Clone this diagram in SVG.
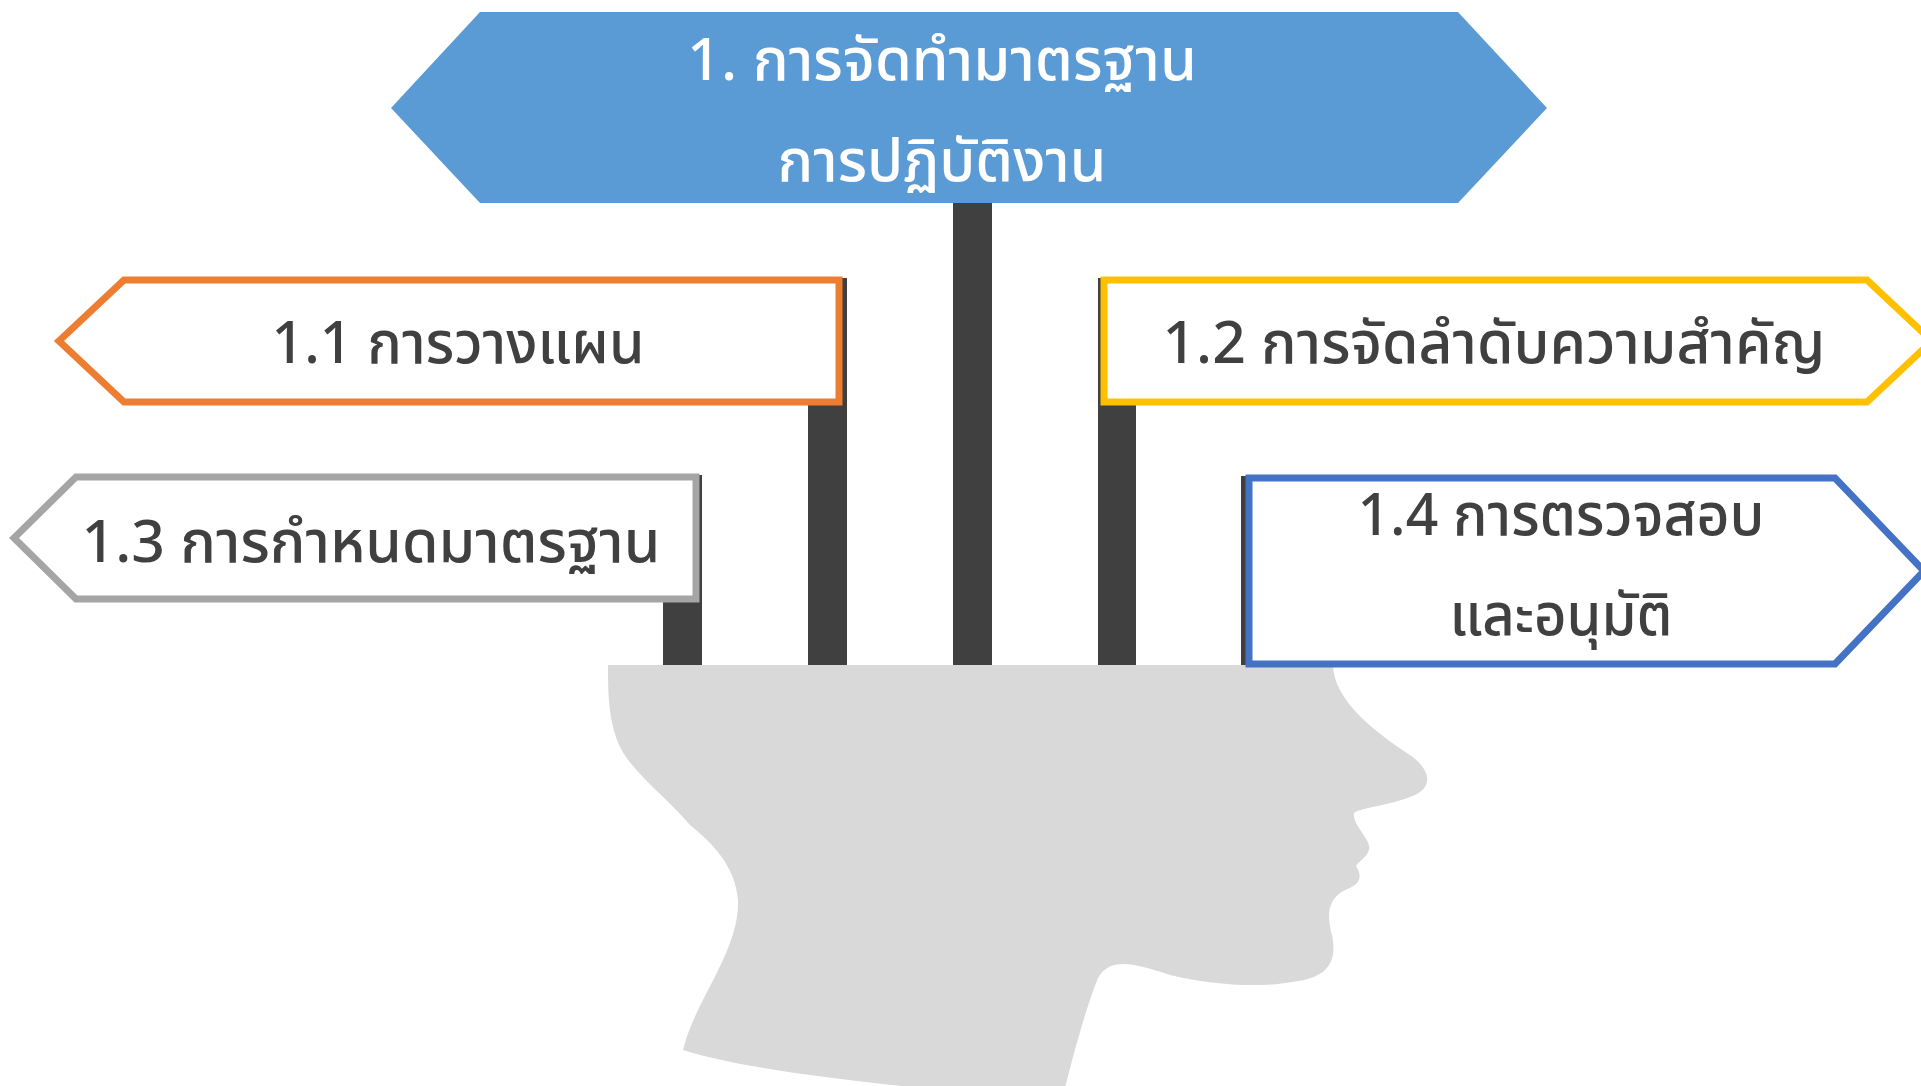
<svg xmlns="http://www.w3.org/2000/svg" width="1921" height="1086" viewBox="0 0 1921 1086">
  <style>
    .pole { fill: #404040; }
    .head { fill: #D9D9D9; }
    .sign { fill: #FFFFFF; stroke-width: 7; stroke-linejoin: miter; }
    .lbl { font-family: "Noto Sans Thai", "Noto Sans", "Leelawadee UI", Tahoma, sans-serif; font-size: 58px; font-weight: 500; fill: #404040; text-anchor: middle; }
    .ttl { fill: #FFFFFF; }
  </style>
  <rect width="1921" height="1086" fill="#FFFFFF"/>

  <!-- sign posts -->
  <g id="connectors">
    <rect class="pole" x="663" y="475" width="39" height="190"/>
    <rect class="pole" x="808" y="278" width="39" height="387"/>
    <rect class="pole" x="953" y="203" width="39" height="462"/>
    <rect class="pole" x="1098" y="278" width="38" height="387"/>
    <rect class="pole" x="1241" y="476" width="39" height="189"/>
  </g>

  <!-- head silhouette -->
  <g id="head">
    <path class="head" d="M608,665 L1333,665
      C1334,700 1372,730 1410,755
      C1434,772 1432,790 1410,797
      C1390,805 1360,808 1354,813
      C1352,825 1372,840 1369,850
      C1367,857 1358,862 1356,866
      C1362,876 1362,884 1345,890
      C1325,900 1328,920 1332,935
      C1338,965 1325,978 1292,982
      C1260,988 1210,985 1170,975
      C1130,962 1110,958 1098,978
      C1085,1010 1072,1060 1064,1092
      L960,1092
      C840,1080 740,1068 683,1050
      C695,1000 740,950 738,900
      C735,865 712,843 690,825
      C665,795 628,770 617,740
      C608,715 608,690 608,665 Z"/>
  </g>

  <!-- main sign -->
  <g id="node-main">
    <path d="M391,108 L480,12 L1458,12 L1547,108 L1458,203 L480,203 Z" fill="#5B9BD5"/>
    <text class="lbl ttl" x="942" y="80" textLength="510" lengthAdjust="spacingAndGlyphs">1. การจัดทำมาตรฐาน</text>
    <text class="lbl ttl" x="942" y="181" textLength="329" lengthAdjust="spacingAndGlyphs">การปฏิบัติงาน</text>
  </g>

  <g id="node-1-1">
    <path class="sign" stroke="#ED7D31" d="M124,280 L839,280 L839,402 L124,402 L59,341 Z"/>
    <text class="lbl" x="458" y="363" textLength="373" lengthAdjust="spacingAndGlyphs">1.1 การวางแผน</text>
  </g>

  <g id="node-1-2">
    <path class="sign" stroke="#FFC000" d="M1104,280 L1867,280 L1932,341 L1867,402 L1104,402 Z"/>
    <text class="lbl" x="1494" y="363" textLength="663" lengthAdjust="spacingAndGlyphs">1.2 การจัดลำดับความสำคัญ</text>
  </g>

  <g id="node-1-3">
    <path class="sign" stroke="#A5A5A5" d="M76,477 L696,477 L696,599 L76,599 L14,538 Z"/>
    <text class="lbl" x="371" y="562" textLength="579" lengthAdjust="spacingAndGlyphs">1.3 การกำหนดมาตรฐาน</text>
  </g>

  <g id="node-1-4">
    <path class="sign" stroke="#4472C4" d="M1249,478 L1835,478 L1924,571 L1835,664 L1249,664 Z"/>
    <text class="lbl" x="1561" y="535" textLength="407" lengthAdjust="spacingAndGlyphs">1.4 การตรวจสอบ</text>
    <text class="lbl" x="1561" y="635" textLength="223" lengthAdjust="spacingAndGlyphs">และอนุมัติ</text>
  </g>
</svg>
